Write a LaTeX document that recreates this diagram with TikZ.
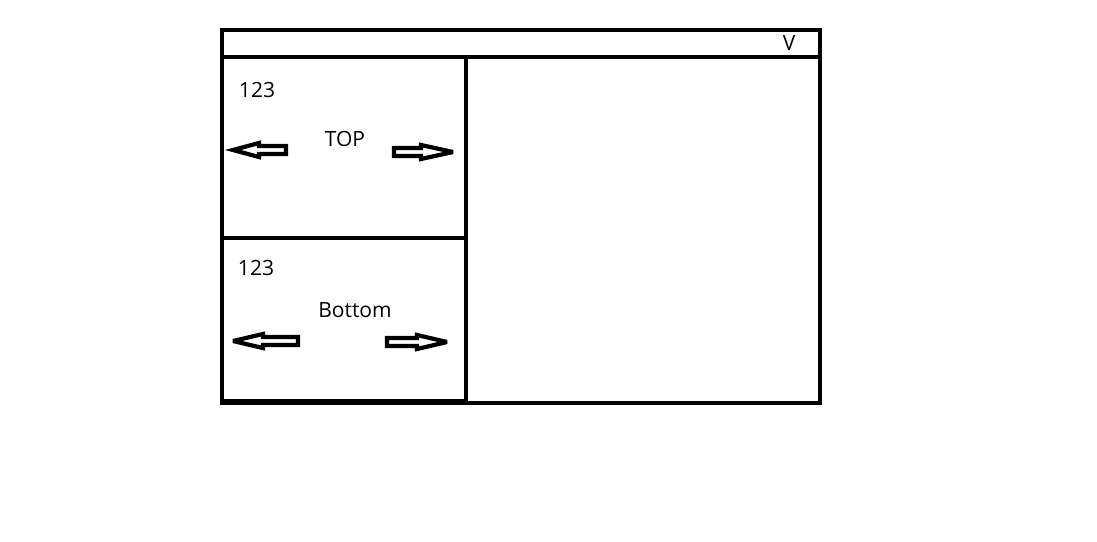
\documentclass[tikz,border=0pt]{standalone}
\usepackage{fontspec}
\setmainfont{Open Sans}
\begin{document}
\begin{tikzpicture}[x=1pt,y=-1pt,line cap=rect,line join=miter]
  \tikzset{frame/.style={line width=4.5pt},
    blockarrow/.style={line width=4.2pt,line join=miter,miter limit=4},
    label/.style={font=\fontsize{21}{24}\selectfont,inner sep=0pt}}
  \useasboundingbox (0,0) rectangle (1097,541);
  % window
  \draw[frame] (222,30) rectangle (820,403);
  \draw[frame] (222,57) -- (820,57);
  \draw[frame] (466,57) -- (466,403);
  \draw[frame] (222,238) -- (466,238);
  \draw[frame] (222,401) -- (466,401);
  \node[label] (vmark) at (789,43) {V};
  % top panel
  \node[label] (topnum) at (257,90) {123};
  \node[label] (toptitle) at (345,139) {TOP};
  \draw[blockarrow] (233,150) -- (259,143) -- (259,146) -- (286,146)
    -- (286,154) -- (259,154) -- (259,157) -- cycle;
  \draw[blockarrow] (394,148) -- (421,148) -- (421,145) -- (453,152)
    -- (421,159) -- (421,156) -- (394,156) -- cycle;
  % bottom panel
  \node[label] (botnum) at (256,268) {123};
  \node[label] (bottitle) at (355,310) {Bottom};
  \draw[blockarrow] (233,341) -- (263,334) -- (263,337) -- (298,337)
    -- (298,345) -- (263,345) -- (263,348) -- cycle;
  \draw[blockarrow] (387,338) -- (417,338) -- (417,335) -- (447,342)
    -- (417,349) -- (417,346) -- (387,346) -- cycle;
\end{tikzpicture}
\end{document}
